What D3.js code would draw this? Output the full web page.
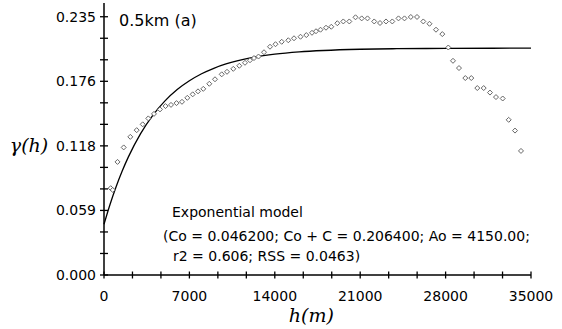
<!DOCTYPE html>
<html lang="en">
<head>
<meta charset="UTF-8">
<script src="https://cdn.jsdelivr.net/npm/d3@7"></script>
<title>Exponential model</title>
<style>
    body { margin: 0; background: #fff; }
    text { font-family: "DejaVu Sans", sans-serif; fill: #000; }
    .math { font-family: "DejaVu Serif", serif; font-style: italic; }
</style>
</head>
<body>
<svg id="chart" width="562" height="329"></svg>
<script>
// lag distance (m) of each point
var lagH = [549, 713, 1107, 1615, 2156, 2680, 3172, 3631, 4098, 4590,
            5041, 5492, 5943, 6393, 6828, 7270, 7705, 8139, 8631, 9098,
            9648, 10082, 10598, 11090, 11557, 11967, 12295, 12664, 13115, 13607,
            14057, 14566, 15107, 15574, 16107, 16582, 17049, 17377, 17746, 18197,
            18631, 19123, 19615, 20107, 20615, 21123, 21598, 22148, 22623, 23115,
            23631, 24139, 24631, 25148, 25656, 26172, 26680, 27213, 27730, 28221,
            28606, 29098, 29615, 30106, 30598, 31123, 31639, 32131, 32680, 33172,
            33689, 34180];
// semivariance of each point
var gammaH = [0.0790, 0.0774, 0.1029, 0.1161, 0.1257, 0.1318, 0.1371, 0.1425, 0.1466, 0.1507,
              0.1537, 0.1548, 0.1564, 0.1576, 0.1612, 0.1644, 0.1671, 0.1694, 0.1740, 0.1781,
              0.1826, 0.1849, 0.1876, 0.1904, 0.1931, 0.1954, 0.1974, 0.1988, 0.2027, 0.2077,
              0.2100, 0.2122, 0.2136, 0.2154, 0.2168, 0.2183, 0.2204, 0.2218, 0.2232, 0.2250,
              0.2259, 0.2291, 0.2307, 0.2307, 0.2345, 0.2335, 0.2335, 0.2307, 0.2293, 0.2307,
              0.2307, 0.2335, 0.2335, 0.2348, 0.2348, 0.2307, 0.2286, 0.2232, 0.2192, 0.2070,
              0.1949, 0.1883, 0.1792, 0.1792, 0.1701, 0.1701, 0.1660, 0.1619, 0.1606, 0.1412,
              0.1314, 0.1129];

// fitted exponential model
var modelH = [0, 500, 1000, 1500, 2000, 3000, 4000, 5000, 6000, 7000,
              8000, 9000, 10000, 12000, 14000, 16000, 18000, 21000, 24000, 28000, 35000];
var modelG = [0.0462, 0.0644, 0.0805, 0.0948, 0.1075, 0.1287, 0.1453, 0.1584, 0.1687, 0.1767,
              0.1831, 0.1881, 0.1920, 0.1975, 0.2009, 0.2030, 0.2043, 0.2054, 0.2059, 0.2062, 0.2064];

var xTicks = [0, 7000, 14000, 21000, 28000, 35000];
var yTicks = [0, 0.05875, 0.1175, 0.17625, 0.235];
var yTickLabels = ["0.000", "0.059", "0.118", "0.176", "0.235"];
var yTop = 0.2475;

var title = "0.5km (a)";
var modelLines = ["Exponential model",
                  "(Co = 0.046200; Co + C = 0.206400; Ao = 4150.00;",
                  "r2 = 0.606; RSS = 0.0463)"];

var svg = d3.select("#chart");
var x = d3.scaleLinear().domain([0, 35000]).range([104, 531]);
var y = d3.scaleLinear().domain([0, yTop]).range([275, 3]);

// minor ticks: thirds of each major interval
var xMinor = d3.range(0, 35001, 7000 / 3);
var yMinor = d3.range(0, 0.2351, 0.05875 / 3);

// x axis
var xAxis = svg.append("g").attr("transform", "translate(0," + y(0) + ")");
xAxis.append("line").attr("x1", x(0)).attr("x2", x(35000))
    .attr("stroke", "#000").attr("stroke-width", 1.5);
xAxis.selectAll("line.tk").data(xMinor).enter().append("line")
    .attr("class", "tk")
    .attr("x1", function(d) { return x(d); }).attr("x2", function(d) { return x(d); })
    .attr("y1", -3.5).attr("y2", 3.5)
    .attr("stroke", "#000").attr("stroke-width", 1.3);
xAxis.selectAll("text").data(xTicks).enter().append("text")
    .attr("x", function(d) { return x(d); }).attr("y", 26)
    .attr("text-anchor", "middle").attr("font-size", 14)
    .text(function(d) { return d; });

// y axis
var yAxis = svg.append("g").attr("transform", "translate(" + x(0) + ",0)");
yAxis.append("line").attr("y1", y(0)).attr("y2", y(yTop))
    .attr("stroke", "#000").attr("stroke-width", 1.5);
yAxis.selectAll("line.tk").data(yMinor).enter().append("line")
    .attr("class", "tk")
    .attr("y1", function(d) { return y(d); }).attr("y2", function(d) { return y(d); })
    .attr("x1", -4).attr("x2", 4)
    .attr("stroke", "#000").attr("stroke-width", 1.3);
yAxis.selectAll("text").data(yTicks).enter().append("text")
    .attr("x", -8).attr("y", function(d) { return y(d) + 5; })
    .attr("text-anchor", "end").attr("font-size", 14)
    .text(function(d, i) { return yTickLabels[i]; });

// axis titles
svg.append("text").attr("class", "math")
    .attr("x", 29).attr("y", 152).attr("text-anchor", "middle")
    .attr("font-size", 19).text("\u03b3(h)");
svg.append("text").attr("class", "math")
    .attr("x", x(17000)).attr("y", 322).attr("text-anchor", "middle")
    .attr("font-size", 19).text("h(m)");

// model curve
var line = d3.line()
    .x(function(d, i) { return x(modelH[i]); })
    .y(function(d) { return y(d); })
    .curve(d3.curveMonotoneX);
svg.append("path").attr("d", line(modelG))
    .attr("fill", "none").attr("stroke", "#000").attr("stroke-width", 1.3);

// experimental points
svg.selectAll("path.pt").data(gammaH).enter().append("path")
    .attr("class", "pt")
    .attr("d", "M0,-2.5L2.5,0L0,2.5L-2.5,0Z")
    .attr("transform", function(d, i) { return "translate(" + x(lagH[i]) + "," + y(d) + ")"; })
    .attr("fill", "#fff").attr("stroke", "#666").attr("stroke-width", 1);

// labels
svg.append("text").attr("x", 119).attr("y", 26).attr("font-size", 16).text(title);
var lx = [172, 163, 173];
var ly = [217, 241, 261];
svg.selectAll("text.model").data(modelLines).enter().append("text")
    .attr("class", "model")
    .attr("x", function(d, i) { return lx[i]; })
    .attr("y", function(d, i) { return ly[i]; })
    .attr("font-size", 14)
    .text(function(d) { return d; });
</script>
</body>
</html>
